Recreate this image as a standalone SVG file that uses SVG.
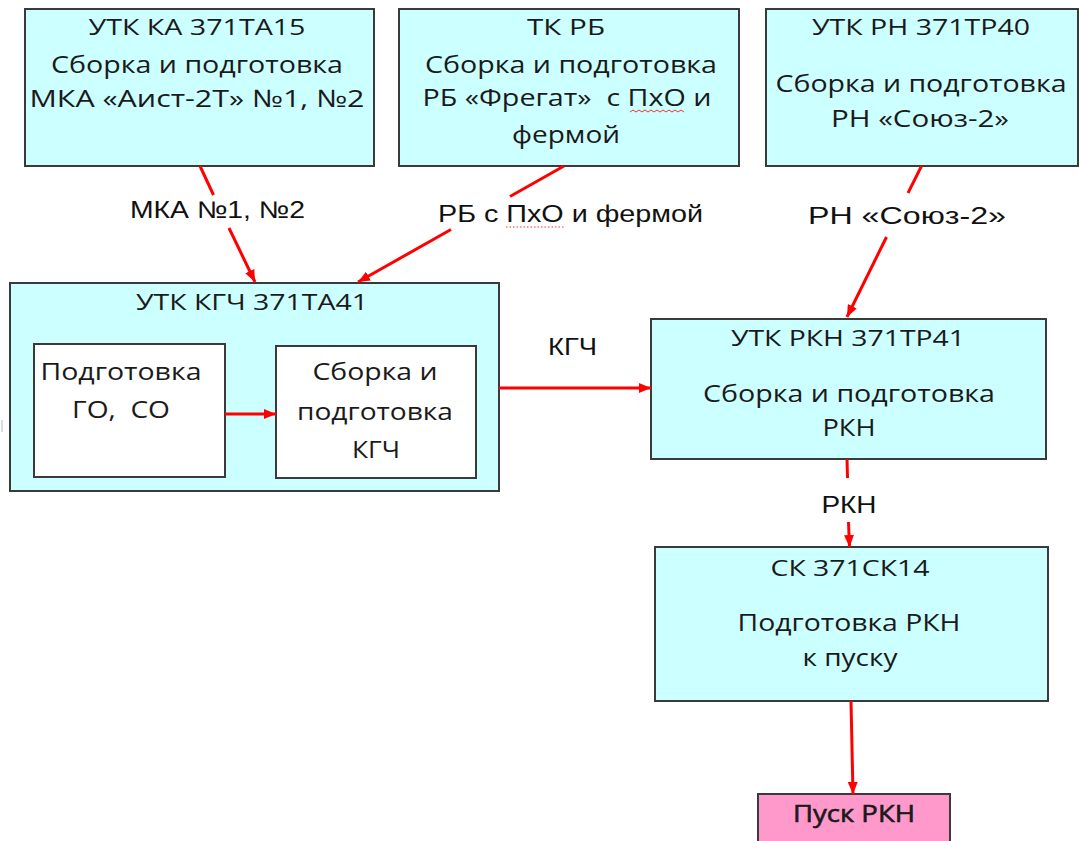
<svg xmlns="http://www.w3.org/2000/svg" width="1079" height="841" viewBox="0 0 1079 841">
<defs>
<marker id="ah" viewBox="0 0 12 10" refX="12" refY="5" markerWidth="12" markerHeight="10" markerUnits="userSpaceOnUse" orient="auto">
<path d="M0,0 L12,5 L0,10 z" fill="#FF0000"/>
</marker>
<style>
.box{fill:#CCFFFF;stroke:#3a3a3a;stroke-width:2}
.inner{fill:#FFFFFF;stroke:#3a3a3a;stroke-width:2}
.pink{fill:#FF99CC;stroke:#3a3a3a;stroke-width:2}
.t{font-family:"Open Sans","DejaVu Sans",sans-serif;fill:#1a1a1a;text-anchor:middle;white-space:pre}
.tt{font-size:21px}
.tb{font-size:24px}
.lbl{font-family:"Liberation Sans",Arial,sans-serif;fill:#111;text-anchor:middle;font-size:24px}
.c{fill:none;stroke:#FF0000;stroke-width:3}
.arr{marker-end:url(#ah)}
</style>
</defs>
<rect width="1079" height="841" fill="#FFFFFF"/>
<line x1="2" y1="420" x2="2" y2="432" stroke="#c8d0e0" stroke-width="1.5"/>

<g id="node-utk-ka">
<rect class="box" x="25" y="9" width="349" height="157"/>
<text class="t tt" x="197" y="35" textLength="217" lengthAdjust="spacingAndGlyphs">УТК КА 371ТА15</text>
<text class="t tb" x="197" y="73" textLength="292" lengthAdjust="spacingAndGlyphs">Сборка и подготовка</text>
<text class="t tb" x="197" y="107" textLength="335" lengthAdjust="spacingAndGlyphs">МКА «Аист-2Т» №1, №2</text>
</g>

<g id="node-tk-rb">
<rect class="box" x="399" y="9" width="340" height="157"/>
<text class="t tt" x="566" y="35" textLength="78" lengthAdjust="spacingAndGlyphs">ТК РБ</text>
<text class="t tb" x="571" y="73" textLength="292" lengthAdjust="spacingAndGlyphs">Сборка и подготовка</text>
<text class="t tb" x="567" y="106" textLength="289" lengthAdjust="spacingAndGlyphs">РБ «Фрегат»  с ПхО и</text>
<path d="M630,112 l3,-2 l3,2 l3,-2 l3,2 l3,-2 l3,2 l3,-2 l3,2 l3,-2 l3,2 l3,-2 l3,2 l3,-2 l3,2 l3,-2 l3,2 l3,-2 l3,2" fill="none" stroke="#FF3030" stroke-width="1"/>
<text class="t tb" x="566" y="143" textLength="108" lengthAdjust="spacingAndGlyphs">фермой</text>
</g>

<g id="node-utk-rn">
<rect class="box" x="766" y="9" width="312" height="157"/>
<text class="t tt" x="921" y="35" textLength="218" lengthAdjust="spacingAndGlyphs">УТК РН 371ТР40</text>
<text class="t tb" x="921" y="92" textLength="291" lengthAdjust="spacingAndGlyphs">Сборка и подготовка</text>
<text class="t tb" x="920" y="127" textLength="178" lengthAdjust="spacingAndGlyphs">РН «Союз-2»</text>
</g>

<g id="node-utk-kgch">
<rect class="box" x="10" y="283" width="489" height="208"/>
<text class="t tt" x="252" y="310" textLength="232" lengthAdjust="spacingAndGlyphs">УТК КГЧ 371ТА41</text>
</g>

<g id="node-go-so">
<rect class="inner" x="34" y="344" width="191" height="133"/>
<text class="t tb" x="121" y="380" textLength="161" lengthAdjust="spacingAndGlyphs">Подготовка</text>
<text class="t tb" x="121" y="418" textLength="98" lengthAdjust="spacingAndGlyphs">ГО,  СО</text>
</g>

<g id="node-kgch-assembly">
<rect class="inner" x="276" y="346" width="200" height="132"/>
<text class="t tb" x="375" y="380" textLength="125" lengthAdjust="spacingAndGlyphs">Сборка и</text>
<text class="t tb" x="375" y="420" textLength="156" lengthAdjust="spacingAndGlyphs">подготовка</text>
<text class="t tb" x="376" y="458" textLength="48" lengthAdjust="spacingAndGlyphs">КГЧ</text>
</g>

<g id="node-utk-rkn">
<rect class="box" x="651" y="319" width="395" height="140"/>
<text class="t tt" x="848" y="346" textLength="234" lengthAdjust="spacingAndGlyphs">УТК РКН 371ТР41</text>
<text class="t tb" x="849" y="402" textLength="292" lengthAdjust="spacingAndGlyphs">Сборка и подготовка</text>
<text class="t tb" x="849" y="436" textLength="53" lengthAdjust="spacingAndGlyphs">РКН</text>
</g>

<g id="node-sk">
<rect class="box" x="655" y="547" width="393" height="154"/>
<text class="t tt" x="850" y="576" textLength="159" lengthAdjust="spacingAndGlyphs">СК 371СК14</text>
<text class="t tb" x="849" y="631" textLength="223" lengthAdjust="spacingAndGlyphs">Подготовка РКН</text>
<text class="t tb" x="850" y="666" textLength="95" lengthAdjust="spacingAndGlyphs">к пуску</text>
</g>

<g id="node-launch">
<rect class="pink" x="758" y="794" width="192" height="60"/>
<text class="t tb" x="854" y="822" stroke="#1a1a1a" stroke-width="0.6" textLength="122" lengthAdjust="spacingAndGlyphs">Пуск РКН</text>
</g>

<g id="connectors">
<line class="c" x1="200" y1="166" x2="213.5" y2="195"/>
<line class="c arr" x1="229" y1="228" x2="255" y2="282"/>
<text class="lbl" x="217.5" y="218" textLength="175" lengthAdjust="spacingAndGlyphs">МКА №1, №2</text>

<line class="c" x1="564" y1="166" x2="510" y2="196.5"/>
<line class="c arr" x1="451" y1="229.5" x2="358" y2="282"/>
<text class="lbl" x="570.5" y="222" textLength="265" lengthAdjust="spacingAndGlyphs">РБ с ПхО и фермой</text>
<line x1="506" y1="227" x2="565" y2="227" stroke="#FF3030" stroke-width="1" stroke-dasharray="1.5,2"/>

<line class="c" x1="921.5" y1="166" x2="908" y2="193"/>
<line class="c arr" x1="886.5" y1="237" x2="847" y2="317"/>
<text class="lbl" x="907" y="224" font-size="29" textLength="198" lengthAdjust="spacingAndGlyphs">РН «Союз-2»</text>

<line class="c arr" x1="499" y1="388" x2="651" y2="388"/>
<text class="lbl" x="572.5" y="355" font-size="25" textLength="49" lengthAdjust="spacingAndGlyphs">КГЧ</text>

<line class="c arr" x1="225" y1="414" x2="276" y2="414"/>

<line class="c" x1="847" y1="459" x2="847.5" y2="478"/>
<line class="c arr" x1="848.5" y1="522" x2="849.5" y2="547"/>
<text class="lbl" x="849" y="513" font-size="25" textLength="55" lengthAdjust="spacingAndGlyphs">РКН</text>

<line class="c arr" x1="851" y1="701" x2="853" y2="794"/>
</g>
</svg>
